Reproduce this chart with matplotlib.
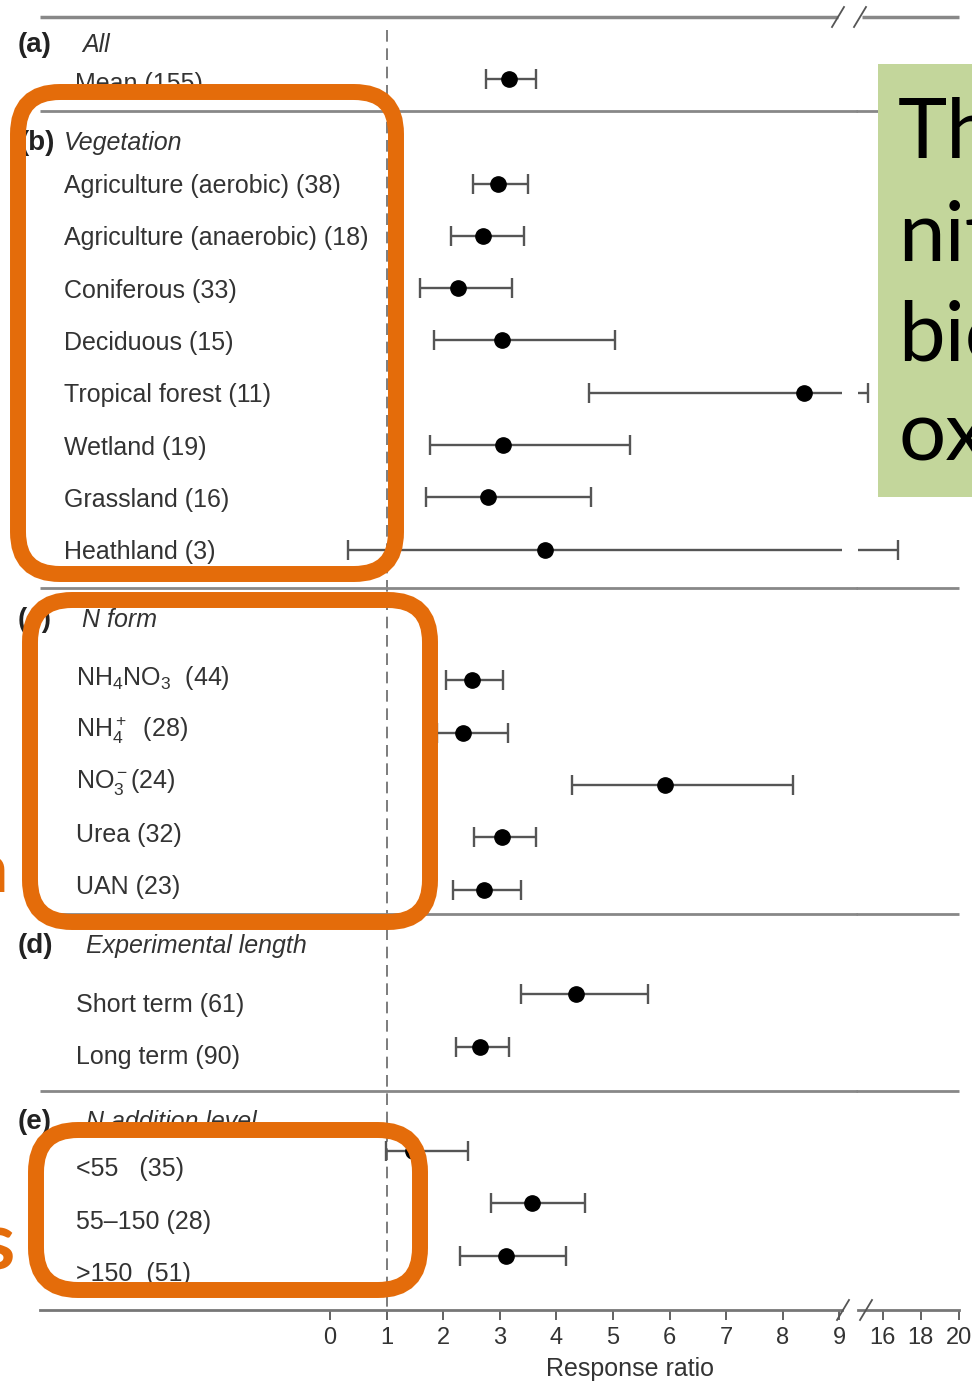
import matplotlib.pyplot as plt
from matplotlib.patches import FancyBboxPatch, Rectangle
from matplotlib.lines import Line2D

plt.rcParams['font.family'] = ['Liberation Sans', 'DejaVu Sans']
plt.rcParams['mathtext.fontset'] = 'custom'
plt.rcParams['mathtext.rm'] = 'Liberation Sans'
plt.rcParams['mathtext.it'] = 'Liberation Sans:italic'

# data
group_tags = ['(a)', '(b)', '(c)', '(d)', '(e)']
group_names = ['All', 'Vegetation', 'N form', 'Experimental length', 'N addition level']
group_sizes = [1, 8, 5, 2, 3]

labels = ['Mean (155)',
          'Agriculture (aerobic) (38)', 'Agriculture (anaerobic) (18)', 'Coniferous (33)',
          'Deciduous (15)', 'Tropical forest (11)', 'Wetland (19)', 'Grassland (16)', 'Heathland (3)',
          r'NH$_4$NO$_3$  (44)', r'NH$_4^+$  (28)', r'NO$_3^-$(24)', 'Urea (32)', 'UAN (23)',
          'Short term (61)', 'Long term (90)',
          '<55   (35)', '55\u2013150 (28)', '>150  (51)']
means = [3.16, 2.97, 2.70, 2.26, 3.04, 8.37, 3.06, 2.79, 3.80,
         2.51, 2.35, 5.92, 3.04, 2.72, 4.35, 2.65, 1.47, 3.57, 3.11]
lows = [2.76, 2.53, 2.14, 1.59, 1.84, 4.58, 1.77, 1.70, 0.32,
        2.05, 1.89, 4.28, 2.54, 2.17, 3.37, 2.23, 0.99, 2.84, 2.30]
highs = [3.64, 3.50, 3.43, 3.22, 5.04, 15.2, 5.30, 4.61, 16.8,
         3.06, 3.14, 8.18, 3.64, 3.37, 5.62, 3.16, 2.43, 4.51, 4.17]

left_ticks = [0, 1, 2, 3, 4, 5, 6, 7, 8, 9]
right_ticks = [16, 18, 20]

note_lines = ['The', 'nitrogen', 'biological', 'oxidation']

# layout (rows, pixels of the 972x1383 canvas)
gaps = [0, 2, 2.5, 2, 2]
header_off = [-0.65, -0.78, -1.16, -0.93, -0.55]
label_off = [0.1, 0.05, -0.05, 0.2, 0.35]
tag_px = [18, 20, 18, 18, 18]
name_px = [82, 64, 82, 86, 86]
label_px = [75, 64, 76, 76, 76]

W, H = 972, 1383
orange = '#E46C0A'
grey = '#555555'
txt = '#333333'

ys = []
headers = []
y = 0
for g, n in enumerate(group_sizes):
    y = y + gaps[g] if g else 0
    headers.append(y + header_off[g])
    for i in range(n):
        ys.append(y)
        y += 1 if i < n - 1 else 0

ytop, ybot = -1.185, 23.537
bottom = (H - 1310) / H
height = (1310 - 17) / H

fig = plt.figure(figsize=(W / 100, H / 100), dpi=100)
ax = fig.add_axes([0, bottom, 842 / W, height])
ax2 = fig.add_axes([858 / W, bottom, (960 - 858) / W, height])

ax.set_xlim(-330 / 56.6, (842 - 330) / 56.6)
ax2.set_xlim(16 + (858 - 882.8) / 19, 16 + (960 - 882.8) / 19)

err = [[m - l for m, l in zip(means, lows)], [h - m for m, h in zip(means, highs)]]
for a in (ax, ax2):
    a.set_ylim(ybot, ytop)
    a.errorbar(means, ys, xerr=err, fmt='o', color='black', ecolor=grey,
               elinewidth=1.7, capsize=7.5, capthick=1.7, markersize=11, zorder=3)
    for s in ['left', 'right', 'top']:
        a.spines[s].set_visible(False)
    a.spines['bottom'].set_color('#777777')
    a.spines['bottom'].set_linewidth(2)
    a.tick_params(axis='y', left=False, labelleft=False)
    a.tick_params(axis='x', length=7, width=1.3, color='#555555', labelsize=17,
                  labelcolor=txt, pad=5)

ax.set_xticks(left_ticks)
ax2.set_xticks(right_ticks)
ax.spines['bottom'].set_bounds(-290 / 56.6, (842 - 330) / 56.6)
ax2.spines['bottom'].set_bounds(16 + (858 - 882.8) / 19, 20)

# reference line at 1
ax.vlines(1, (30 - 79) / 52.3, ybot, colors='#666666', linestyles=(0, (7, 4)), lw=1.2, zorder=1)

# top line and separators
ax.hlines(ytop, -290 / 56.6, (838 - 330) / 56.6, colors='#888888', lw=2.5, clip_on=False)
ax2.hlines(ytop, 16 + (862 - 882.8) / 19, 20, colors='#888888', lw=2.5, clip_on=False)
for h in headers[1:]:
    ax.hlines(h - 0.6, -290 / 56.6, (860 - 330) / 56.6, colors='#888888', lw=2, clip_on=False)
    ax2.hlines(h - 0.6, 14.6, 20, colors='#888888', lw=2, clip_on=False)

# labels
tr = ax.get_yaxis_transform()
k = 0
for g, n in enumerate(group_sizes):
    ax.text(tag_px[g] / 842, headers[g], group_tags[g], transform=tr, fontsize=20,
            fontweight='bold', color='#222222', va='center', ha='left')
    ax.text(name_px[g] / 842, headers[g], group_names[g], transform=tr, fontsize=18,
            style='italic', color=txt, va='center', ha='left')
    for i in range(n):
        ax.text(label_px[g] / 842, ys[k] + label_off[g], labels[k], transform=tr,
                fontsize=18, color=txt, va='center', ha='left')
        k += 1

ax.set_xlabel('Response ratio', fontsize=18, color=txt)
ax.xaxis.set_label_coords(630 / 842, -0.036)

# break marks
for cx, cy in [(838, 17), (860, 17), (843, 1310), (866, 1310)]:
    fig.add_artist(Line2D([(cx - 6) / W, (cx + 6) / W], [1 - (cy + 10) / H, 1 - (cy - 10) / H],
                          color='#555555', lw=1.3))

# orange highlight boxes
for x0, y0, x1, y1 in [(18, 92, 396, 574), (30, 600, 430, 922), (36, 1130, 420, 1290)]:
    fig.add_artist(FancyBboxPatch((x0 / 100, (H - y1) / 100), (x1 - x0) / 100, (y1 - y0) / 100,
                                  boxstyle='round,pad=0,rounding_size=0.42',
                                  transform=fig.dpi_scale_trans, fill=False,
                                  edgecolor=orange, lw=11.5, zorder=10))

# green note box, cut at the right edge
fig.add_artist(Rectangle((878 / W, 1 - 497 / H), 200 / W, (497 - 64) / H,
                         transform=fig.transFigure, facecolor='#C3D69B', edgecolor='none', zorder=11))
for line, base in zip(note_lines, [158, 260, 360, 460]):
    fig.text(898 / W, 1 - base / H, line, fontsize=60, family=['Lato', 'DejaVu Sans'],
             color='black', va='baseline', ha='left', zorder=12)

fig.text(8 / W, 1 - 892 / H, 'n', fontsize=50, fontweight='bold', family=['Lato', 'DejaVu Sans'],
         color=orange, va='baseline', ha='right', zorder=12)
fig.text(14 / W, 1 - 1270 / H, 's', fontsize=58, fontweight='bold', family=['Lato', 'DejaVu Sans'],
         color=orange, va='baseline', ha='right', zorder=12)

fig.savefig('out.png', dpi=100)
